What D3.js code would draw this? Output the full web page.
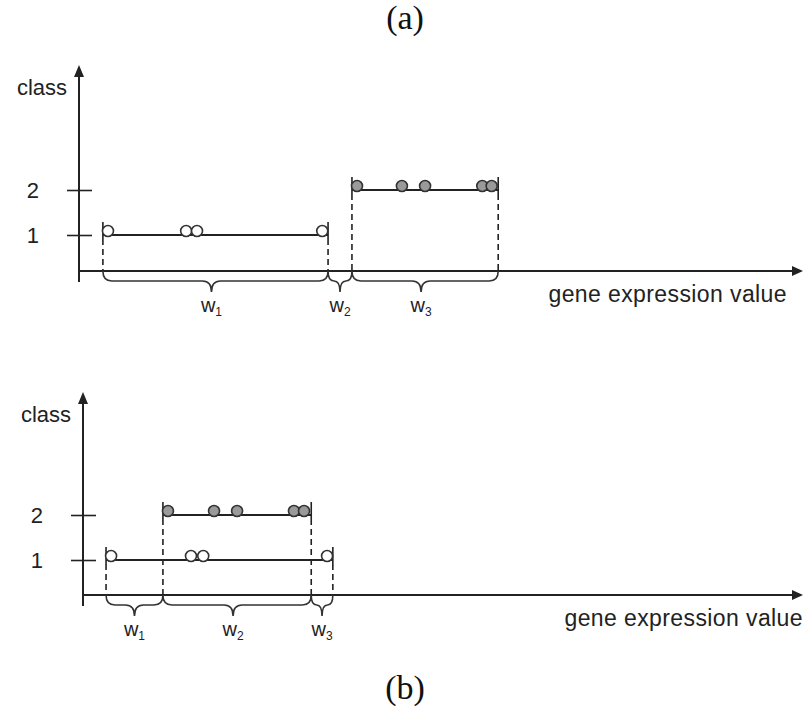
<!DOCTYPE html>
<html>
<head>
<meta charset="utf-8">
<script src="https://cdn.jsdelivr.net/npm/d3@7"></script>
<style>
  body { margin: 0; background: #fff; }
  svg { display: block; }
  .lbl { font-family: "Liberation Sans", Arial, sans-serif; fill: #222; }
  .title { font-family: "Liberation Serif", "DejaVu Serif", serif; fill: #111; }
</style>
</head>
<body>
<script>
// values (x in arbitrary expression units, 0..10 along the axis)
const PANEL_TITLES = ['(a)', '(b)'];
const CLASS_TICKS = [1, 2];
const WINDOW_NAMES = ['1', '2', '3'];

const A_CLASS1 = [0.40, 1.48, 1.63, 3.36];
const A_CLASS2 = [3.84, 4.46, 4.78, 5.57, 5.70];
const A_SPAN1 = [0.33, 3.44];
const A_SPAN2 = [3.77, 5.79];
const A_CUTS = [0.33, 3.44, 3.77, 5.79];

const B_CLASS1 = [0.39, 1.50, 1.67, 3.39];
const B_CLASS2 = [1.18, 1.82, 2.14, 2.93, 3.07];
const B_SPAN1 = [0.32, 3.47];
const B_SPAN2 = [1.11, 3.17];
const B_CUTS = [0.32, 1.11, 3.17, 3.47];

const width = 807, height = 718;
const ink = '#222';

const svg = d3.select('body').append('svg')
    .attr('width', width)
    .attr('height', height);

const panels = [
  {title: PANEL_TITLES[0], titleY: 29, ox: 79, axisY: 271, topY: 65, y1: 235,
   class1: A_CLASS1, class2: A_CLASS2, span1: A_SPAN1, span2: A_SPAN2, cuts: A_CUTS},
  {title: PANEL_TITLES[1], titleY: 699, ox: 83, axisY: 595, topY: 392, y1: 560,
   class1: B_CLASS1, class2: B_CLASS2, span1: B_SPAN1, span2: B_SPAN2, cuts: B_CUTS}
];

function brace(x0, x1, y, tip) {
  const h = 10, t = 11;
  const r = Math.min(9, (x1 - x0) / 4);
  return `M${x0},${y} Q${x0},${y + h} ${x0 + r},${y + h} L${tip - r},${y + h} ` +
         `Q${tip},${y + h} ${tip},${y + h + t} Q${tip},${y + h} ${tip + r},${y + h} ` +
         `L${x1 - r},${y + h} Q${x1},${y + h} ${x1},${y}`;
}

panels.forEach(p => {
  const x = d3.scaleLinear().domain([0, 10]).range([p.ox, 803]);
  const y = d3.scaleLinear().domain([1, 2]).range([p.y1, p.y1 - 45]);
  const g = svg.append('g');

  // panel title
  svg.append('text')
    .attr('class', 'title')
    .attr('x', 405).attr('y', p.titleY)
    .attr('text-anchor', 'middle')
    .attr('font-size', 34)
    .text(p.title);

  // x axis with arrow
  g.append('line')
    .attr('x1', p.ox).attr('x2', 795)
    .attr('y1', p.axisY).attr('y2', p.axisY)
    .attr('stroke', ink).attr('stroke-width', 2);
  g.append('path')
    .attr('d', `M803,${p.axisY} L792,${p.axisY - 5} L792,${p.axisY + 5} Z`)
    .attr('fill', ink);

  // y axis with arrow
  g.append('line')
    .attr('x1', p.ox).attr('x2', p.ox)
    .attr('y1', p.topY + 8).attr('y2', p.axisY + 11)
    .attr('stroke', ink).attr('stroke-width', 2);
  g.append('path')
    .attr('d', `M${p.ox},${p.topY} L${p.ox - 5},${p.topY + 12} L${p.ox + 5},${p.topY + 12} Z`)
    .attr('fill', ink);

  // class ticks crossing the axis
  const yAxis = g.append('g')
    .attr('transform', `translate(${p.ox + 13},0)`)
    .call(d3.axisLeft(y).tickValues(CLASS_TICKS).tickSize(25).tickPadding(28)
      .tickFormat(d3.format('d')));
  yAxis.select('.domain').remove();
  yAxis.selectAll('line').attr('stroke', ink).attr('stroke-width', 1.6);
  yAxis.selectAll('text')
    .attr('class', 'lbl')
    .attr('font-size', 22)
    .attr('fill', ink)
    .attr('dy', '0.36em');

  // axis labels
  g.append('text').attr('class', 'lbl')
    .attr('x', p.ox - 12).attr('y', p.topY + 30)
    .attr('text-anchor', 'end').attr('font-size', 22)
    .text('class');
  g.append('text').attr('class', 'lbl')
    .attr('x', 787 + (p.ox - 79) * 4).attr('y', p.axisY + 31)
    .attr('text-anchor', 'end').attr('font-size', 23)
    .attr('letter-spacing', 0.4)
    .text('gene expression value');

  // dashed drop lines from class segments to the axis
  const ends = [
    {v: p.span1[0], c: 1}, {v: p.span1[1], c: 1},
    {v: p.span2[0], c: 2}, {v: p.span2[1], c: 2}
  ];
  g.selectAll('line.drop').data(ends).enter().append('line')
    .attr('class', 'drop')
    .attr('x1', d => x(d.v)).attr('x2', d => x(d.v))
    .attr('y1', d => y(d.c) + 4).attr('y2', p.axisY)
    .attr('stroke', ink).attr('stroke-width', 1.6)
    .attr('stroke-dasharray', '6,4');
  g.selectAll('line.endtick').data(ends).enter().append('line')
    .attr('class', 'endtick')
    .attr('x1', d => x(d.v)).attr('x2', d => x(d.v))
    .attr('y1', d => y(d.c) - 13).attr('y2', d => y(d.c) + 4)
    .attr('stroke', ink).attr('stroke-width', 1.6);

  // class segments
  [[p.span1, 1], [p.span2, 2]].forEach(([s, c]) => {
    g.append('line')
      .attr('x1', x(s[0])).attr('x2', x(s[1]))
      .attr('y1', y(c)).attr('y2', y(c))
      .attr('stroke', ink).attr('stroke-width', 2);
  });

  // points
  g.selectAll('circle.c1').data(p.class1).enter().append('circle')
    .attr('cx', d => x(d)).attr('cy', y(1) - 4).attr('r', 5.5)
    .attr('fill', '#fff').attr('stroke', '#333').attr('stroke-width', 1.6);
  g.selectAll('circle.c2').data(p.class2).enter().append('circle')
    .attr('cx', d => x(d)).attr('cy', y(2) - 4).attr('r', 5.5)
    .attr('fill', '#9a9a9a').attr('stroke', '#333').attr('stroke-width', 1.6);

  // window braces and labels
  const wins = d3.pairs(p.cuts);
  wins.forEach((w, i) => {
    const x0 = x(w[0]), x1 = x(w[1]);
    const tip = (x0 + x1) / 2 - (x1 - x0 > 60 ? 4 : 0);
    g.append('path')
      .attr('d', brace(x0, x1, p.axisY, tip))
      .attr('fill', 'none').attr('stroke', '#333').attr('stroke-width', 1.6);
    const t = g.append('text').attr('class', 'lbl')
      .attr('x', tip).attr('y', p.axisY + 41)
      .attr('text-anchor', 'middle').attr('font-size', 20);
    t.append('tspan').text('w');
    t.append('tspan').attr('font-size', 12).attr('dy', 4).text(WINDOW_NAMES[i]);
  });
});
</script>
</body>
</html>
